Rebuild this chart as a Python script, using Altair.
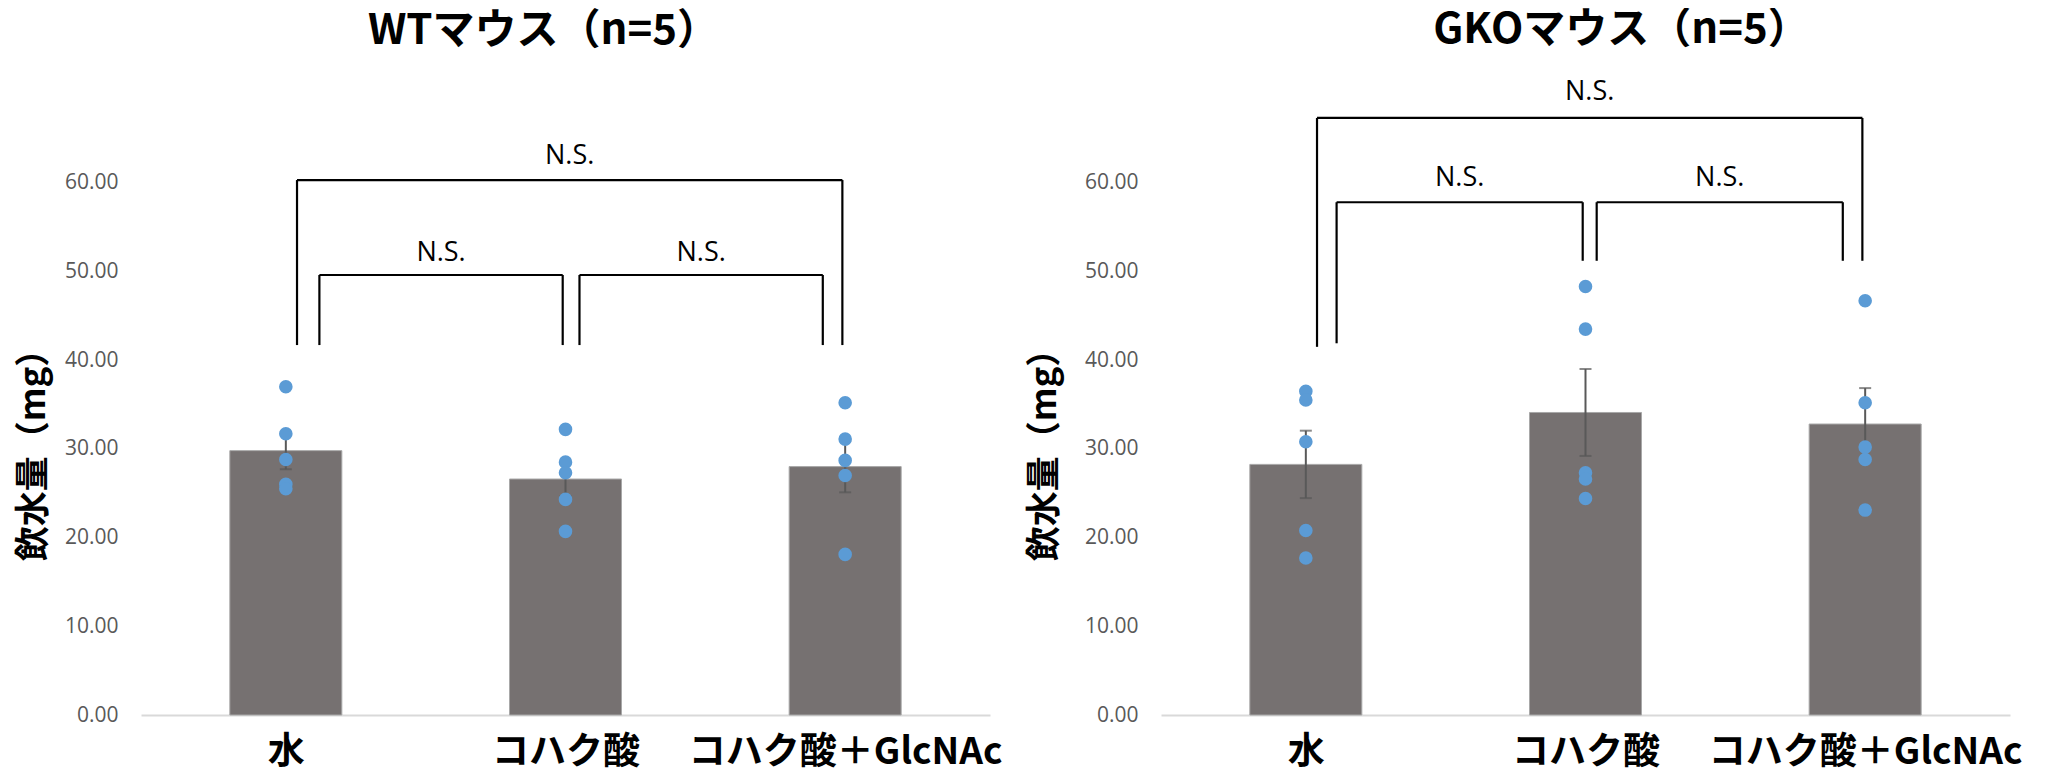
import altair as alt
import pandas as pd

# ---------------- data ----------------
categories = ["水", "コハク酸", "コハク酸＋GlcNAc"]
cat_index = [0, 1, 2]

wt_means = [29.8, 26.6, 28.0]
wt_se = [2.1, 1.95, 2.9]
gko_means = [28.25, 34.1, 32.8]
gko_se = [3.8, 4.9, 4.05]

wt_water = [37.0, 31.7, 28.8, 26.0, 25.5]
wt_succinate = [32.2, 28.5, 27.3, 24.3, 20.7]
wt_glcnac = [35.2, 31.1, 28.7, 27.0, 18.1]
gko_water = [36.5, 35.5, 30.8, 20.8, 17.7]
gko_succinate = [48.3, 43.5, 27.3, 26.6, 24.4]
gko_glcnac = [46.7, 35.2, 30.2, 28.8, 23.1]

# significance brackets (x in category-index units, y in mg)
sig_labels = ["N.S.", "N.S.", "N.S."]
wt_br_x1 = [0.04, 0.12, 1.05]
wt_br_x2 = [1.99, 0.99, 1.92]
wt_br_top = [60.3, 49.6, 49.6]
wt_br_left_end = [41.7, 41.7, 41.7]
wt_br_right_end = [41.7, 41.7, 41.7]
wt_label_y = [63.0, 52.1, 52.1]

gko_br_x1 = [0.04, 0.11, 1.04]
gko_br_x2 = [1.99, 0.99, 1.92]
gko_br_top = [67.3, 57.8, 57.8]
gko_br_left_end = [41.5, 41.9, 51.2]
gko_br_right_end = [51.2, 51.2, 51.2]
gko_label_y = [70.2, 60.5, 60.5]

y_ticks = [0, 10, 20, 30, 40, 50, 60]

# ---------------- styling ----------------
BAR_COLOR = "#767171"
DOT_COLOR = "#5b9bd5"
ERR_COLOR = "#595959"
CJK = "Noto Sans CJK JP"
LATIN = "Open Sans"

xs = alt.Scale(domain=[-0.5, 2.5], nice=False, zero=False)
ys = alt.Scale(domain=[0, 70], nice=False)
label_expr = "[" + ",".join(f"'{c}'" for c in categories) + "][round(datum.value)]"

xaxis = alt.Axis(values=cat_index, labelExpr=label_expr, title=None, grid=False,
                 ticks=False, tickSize=0, domainColor="#d9d9d9", domainWidth=2,
                 labelFont=CJK, labelFontSize=37, labelFontWeight="bold",
                 labelColor="black", labelPadding=37, labelBaseline="middle",
                 labelAngle=0, labelOverlap=False, labelFlush=False, labelLimit=0)


def make_yaxis(title_x):
    return alt.Axis(values=y_ticks, format=".2f", grid=False, ticks=False, tickSize=0,
                    domain=False, labelFont=LATIN, labelFontSize=21, labelColor="#595959",
                    labelPadding=23, title="飲水量（mg）", titleFont=CJK, titleFontSize=35,
                    titleFontWeight="bold", titleColor="black", titleAngle=270,
                    titleX=title_x, titleY=352, titleAlign="center", titleBaseline="middle")


def panel(means, ses, dots, bx1, bx2, btop, bl, br, ly, title, dx, offset, title_x):
    yaxis = make_yaxis(title_x)

    def X(f):
        return alt.X(f, type="quantitative", scale=xs, axis=xaxis)

    def Y(f):
        return alt.Y(f, type="quantitative", scale=ys, axis=yaxis)

    bars_df = pd.DataFrame({"x": cat_index, "cat": categories, "mean": means, "se": ses})
    pts_df = pd.DataFrame({
        "x": [i for i, d in zip(cat_index, dots) for _ in d],
        "v": [v for d in dots for v in d],
    })
    br_df = pd.DataFrame({"x1": bx1, "x2": bx2, "top": btop, "yl": bl, "yr": br,
                          "ly": ly, "label": sig_labels})

    base_b = alt.Chart(bars_df)
    bars = base_b.mark_bar(size=112, color=BAR_COLOR, stroke="#a8a8a8", strokeWidth=1).encode(
        x=X("x"), y=Y("mean"))
    err_base = base_b.transform_calculate(
        lo="datum.mean - datum.se", hi="datum.mean + datum.se")
    err = err_base.mark_rule(color=ERR_COLOR, strokeWidth=2).encode(
        x=X("x"), y=Y("lo"), y2="hi:Q")
    cap_lo = err_base.mark_tick(orient="horizontal", size=12, thickness=2, color=ERR_COLOR).encode(
        x=X("x"), y=Y("lo"))
    cap_hi = err_base.mark_tick(orient="horizontal", size=12, thickness=2, color=ERR_COLOR).encode(
        x=X("x"), y=Y("hi"))
    dots_l = alt.Chart(pts_df).mark_circle(size=185, color=DOT_COLOR, opacity=1).encode(
        x=X("x"), y=Y("v"))

    base_br = alt.Chart(br_df)
    hline = base_br.mark_rule(color="black", strokeWidth=2.2).encode(
        x=X("x1"), x2="x2:Q", y=Y("top"))
    lleg = base_br.mark_rule(color="black", strokeWidth=2.2).encode(
        x=X("x1"), y=Y("yl"), y2="top:Q")
    rleg = base_br.mark_rule(color="black", strokeWidth=2.2).encode(
        x=X("x2"), y=Y("yr"), y2="top:Q")
    txt = base_br.transform_calculate(xm="(datum.x1 + datum.x2) / 2").mark_text(
        font=LATIN, fontSize=27, color="black", baseline="middle", align="center").encode(
        x=X("xm"), y=Y("ly"), text="label:N")

    return alt.layer(bars, err, cap_lo, cap_hi, dots_l, hline, lleg, rleg, txt).properties(
        width=849, height=621,
        title=alt.TitleParams(text=title, font=CJK, fontSize=42, fontWeight="bold",
                              color="black", anchor="middle", frame="group", dx=dx,
                              offset=offset, baseline="alphabetic"),
    )


left = panel(wt_means, wt_se, [wt_water, wt_succinate, wt_glcnac],
             wt_br_x1, wt_br_x2, wt_br_top, wt_br_left_end, wt_br_right_end, wt_label_y,
             "WTマウス（n=5）", -22, 8, -108)
right = panel(gko_means, gko_se, [gko_water, gko_succinate, gko_glcnac],
              gko_br_x1, gko_br_x2, gko_br_top, gko_br_left_end, gko_br_right_end, gko_label_y,
              "GKOマウス（n=5）", 36, -7, -117)

chart = alt.hconcat(left, right, spacing=171, bounds="flush").properties(
    padding={"left": 8, "top": 1, "right": 5, "bottom": 14},
    background="white",
).configure_view(stroke=None)

chart.save("out.html", embed_options={"renderer": "svg", "actions": False})
